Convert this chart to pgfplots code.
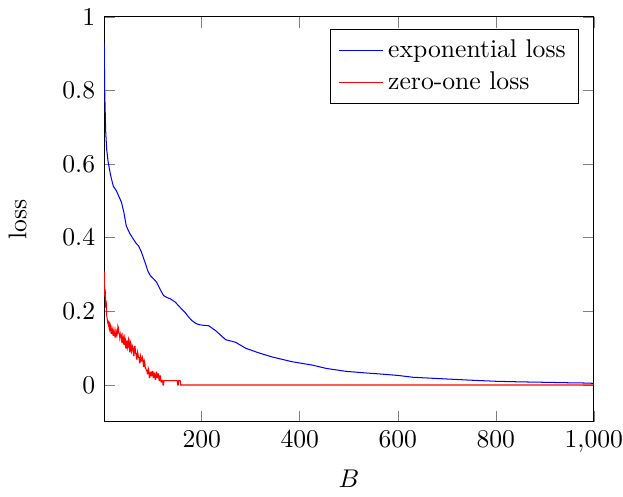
\documentclass[border=0pt]{standalone}
\usepackage{pgfplots}
\pgfplotsset{compat=1.18}
\begin{document}
\begin{tikzpicture}
\begin{axis}[
  scale only axis,
  width=191pt, height=158pt,
  xmin=1, xmax=1000,
  ymin=-0.1, ymax=1,
  xtick={200,400,600,800,1000},
  ytick={0,0.2,0.4,0.6,0.8,1},
  xticklabel style={inner xsep=0pt},
  xlabel={$B$},
  ylabel={loss},
  ylabel style={at={(axis description cs:-0.140,0.5)}, anchor=south},
  legend pos=north east,
  legend cell align=left,
]
\addplot[blue] coordinates {
(1,0.93) (2,0.80) (4,0.69) (6,0.64) (9,0.606) (14,0.57) (19.5,0.54) (26,0.527) (31,0.512) (36,0.497) (41,0.47) (46,0.432) (53,0.412) (60,0.397) (66,0.385) (71,0.378) (77,0.361) (84,0.334) (90,0.31) (95,0.297) (102,0.288) (108,0.279) (115,0.26) (122,0.243) (130,0.237) (136,0.234) (146,0.225) (153,0.215) (160,0.205) (166,0.197) (173,0.185) (180,0.175) (187,0.168) (194,0.164) (204,0.162) (214,0.161) (228,0.148) (238,0.136) (249,0.123) (269,0.116) (290,0.0996) (317,0.087) (344,0.076) (385,0.063) (426,0.054) (454,0.045) (495,0.037) (536,0.0326) (563,0.030) (600,0.026) (631,0.021) (700,0.0163) (750,0.013) (802,0.010) (850,0.0085) (905,0.0072) (950,0.006) (980,0.0054) (1000,0.0045)
};
\addlegendentry{exponential loss}
\addplot[red] coordinates {
(1,0.31) (2,0.24) (3,0.26) (4,0.21) (5,0.23) (6,0.19) (7,0.18) (8,0.17) (9,0.165) (10,0.175) (11,0.155) (12,0.15) (13,0.165) (14,0.16) (15,0.14) (16,0.14) (17,0.155) (18,0.15) (19,0.135) (20,0.135) (21,0.15) (22,0.14) (23,0.13) (24,0.13) (25,0.15) (26,0.145) (27,0.135) (28,0.14) (29,0.16) (30,0.155) (31,0.14) (32,0.14) (33,0.125) (34,0.13) (35,0.14) (36,0.135) (37,0.115) (38,0.115) (39,0.135) (40,0.13) (41,0.11) (42,0.11) (43,0.13) (44,0.125) (45,0.10) (46,0.10) (47,0.12) (48,0.12) (49,0.10) (50,0.105) (51,0.125) (52,0.12) (53,0.09) (54,0.09) (55,0.115) (56,0.11) (57,0.09) (58,0.095) (59,0.105) (60,0.10) (61,0.08) (62,0.08) (63,0.105) (64,0.105) (65,0.085) (66,0.085) (67,0.07) (68,0.07) (69,0.09) (70,0.085) (71,0.075) (72,0.075) (73,0.06) (74,0.06) (75,0.08) (76,0.075) (77,0.065) (78,0.065) (79,0.075) (80,0.07) (81,0.05) (82,0.05) (83,0.065) (84,0.06) (85,0.045) (86,0.045) (87,0.04) (88,0.04) (89,0.03) (90,0.03) (91,0.045) (92,0.04) (93,0.02) (94,0.02) (95,0.035) (96,0.035) (97,0.025) (98,0.025) (99,0.037) (100,0.037) (101,0.02) (102,0.02) (103,0.032) (104,0.03) (105,0.015) (106,0.015) (107,0.035) (108,0.035) (109,0.02) (110,0.02) (111,0.03) (112,0.03) (113,0.012) (114,0.012) (115,0.025) (116,0.025) (117,0.008) (118,0.008) (119,0.012) (120,0.012) (121,0.0) (122,0.0) (123,0.012) (124,0.012) (126,0.012) (130,0.012) (140,0.012) (150,0.012) (151,0.0) (152,0.0) (153,0.012) (156,0.012) (157,0.0) (1000,0.0)
};
\addlegendentry{zero-one loss}
\end{axis}
\end{tikzpicture}
\end{document}
